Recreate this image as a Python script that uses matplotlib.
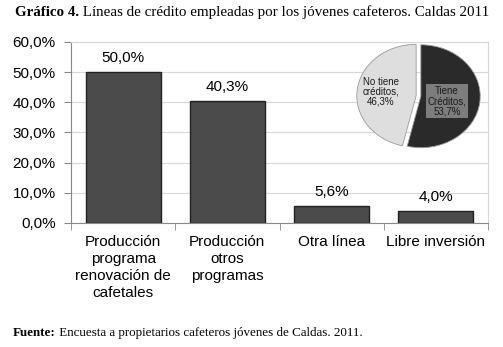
import numpy as np
from matplotlib import pyplot as plt

# Data
categories = ["Producción\nprograma\nrenovación de\ncafetales",
              "Producción\notros\nprogramas",
              "Otra línea",
              "Libre inversión"]
values = [50.0, 40.3, 5.6, 4.0]

pie_labels = ["Tiene\nCréditos,\n53,7%", "No tiene\ncréditos,\n46,3%"]
pie_values = [53.7, 46.3]

title_bold = "Gráfico 4."
title_rest = " Líneas de crédito empleadas por los jóvenes cafeteros. Caldas 2011"
source_bold = "Fuente:"
source_rest = " Encuesta a propietarios cafeteros jóvenes de Caldas. 2011."


def fmt(v):
    return ("%.1f%%" % v).replace(".", ",")


def bold_then_normal(fig, x, y, bold, rest, size):
    renderer = fig.canvas.get_renderer()
    t = fig.text(x, y, bold, fontsize=size, fontweight="bold",
                 family="Liberation Serif", va="center", ha="left")
    bb = t.get_window_extent(renderer=renderer)
    x2 = bb.x1 / fig.bbox.width
    fig.text(x2, y, rest, fontsize=size, family="Liberation Serif",
             va="center", ha="left")


def main():
    plt.rcParams["font.family"] = ["Liberation Sans", "DejaVu Sans"]
    W, H = 503, 347
    fig = plt.figure(figsize=(W / 100, H / 100), dpi=100)

    # bar chart
    ax = fig.add_axes([71 / W, 1 - 223 / H, (488 - 71) / W, (223 - 42) / H])
    x = np.arange(len(categories))
    ax.bar(x, values, width=0.72, color="#4b4b4b", edgecolor="#222222",
           linewidth=1.0, zorder=3)
    for xi, v in zip(x, values):
        ax.annotate(fmt(v), (xi, v), xytext=(0, 5), textcoords="offset points",
                    ha="center", va="bottom", fontsize=11)
    ax.set_xlim(-0.5, len(categories) - 0.5)
    ax.set_ylim(0, 60)
    ax.set_yticks(np.arange(0, 61, 10))
    ax.set_yticklabels([fmt(v) for v in np.arange(0, 61, 10)], fontsize=11)
    ax.set_xticks(x)
    ax.set_xticklabels(categories, fontsize=11, linespacing=1.25)
    ax.set_xticks(np.arange(-0.5, len(categories), 1), minor=True)
    ax.tick_params(axis="x", which="major", length=0, pad=9)
    ax.tick_params(axis="x", which="minor", length=5, color="#888888")
    ax.tick_params(axis="y", length=5, color="#888888", pad=6)
    ax.yaxis.grid(True, color="#d6d6d6", linewidth=0.8, zorder=0)
    ax.set_axisbelow(True)
    for s in ["left", "bottom"]:
        ax.spines[s].set_color("#888888")
    for s in ["top", "right"]:
        ax.spines[s].set_color("#d6d6d6")

    # inset pie
    pax = fig.add_axes([355 / W, 1 - 150 / H, (482 - 355) / W, (150 - 42) / H])
    wedges, _ = pax.pie(pie_values, colors=["#2a2a2a", "#dedede"],
                        startangle=90, counterclock=False,
                        explode=[0.04, 0.04],
                        wedgeprops=dict(edgecolor="#9a9a9a", linewidth=0.6))
    pax.set_aspect("auto")
    pax.set_xlim(-1.07, 1.07)
    pax.set_ylim(-1.05, 1.05)
    pax.axis("off")
    pax.text(0.48, -0.1, pie_labels[0], ha="center", va="center",
             fontsize=7, color="#1a1a1a", linespacing=1.0,
             bbox=dict(boxstyle="square,pad=0.2", fc="#7d7d7d", ec="none"))
    pax.text(-0.64, 0.08, pie_labels[1], ha="center", va="center",
             fontsize=7, color="#1a1a1a", linespacing=1.0)

    bold_then_normal(fig, 15 / W, 1 - 12 / H, title_bold, title_rest, 10.8)
    bold_then_normal(fig, 13 / W, 1 - 333 / H, source_bold, source_rest, 9.4)

    fig.savefig("out.png", dpi=100)
    plt.close(fig)


if __name__ == "__main__":
    main()
